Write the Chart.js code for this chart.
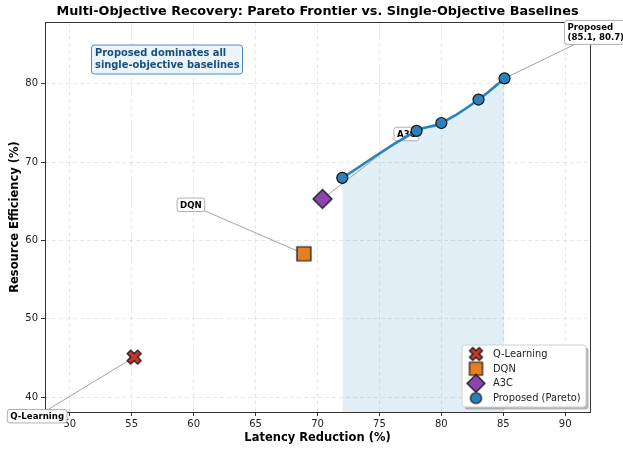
<!DOCTYPE html>
<html>
<head>
<meta charset="utf-8">
<script src="https://cdn.jsdelivr.net/npm/chart.js@4.4.0/dist/chart.umd.min.js"></script>
<style>
  html, body { margin: 0; padding: 0; background: #fff; }
  canvas { display: block; }
</style>
</head>
<body>
<canvas id="chart" width="623" height="449"></canvas>
<script>
// Baselines (single-objective)
const baselineNames = ['Q-Learning', 'DQN', 'A3C'];
const baselineLatency = [55.2, 68.9, 70.4];
const baselineEfficiency = [45.1, 58.3, 65.3];

// Proposed Pareto frontier
const paretoLatency = [72.0, 78.0, 80.0, 83.0, 85.1];
const paretoEfficiency = [68.0, 74.0, 75.0, 78.0, 80.7];

const xTicks = [50, 55, 60, 65, 70, 75, 80, 85, 90];
const yTicks = [40, 50, 60, 70, 80];

const FONT = '"DejaVu Sans", "Liberation Sans", sans-serif';

// filled marker images (matplotlib-like X, square, diamond)
function makeMarker(shape, size, fill) {
    const pad = 2;
    const c = document.createElement('canvas');
    c.width = c.height = Math.ceil(size + pad * 2);
    const g = c.getContext('2d');
    const m = c.width / 2, h = size / 2;
    g.beginPath();
    if (shape === 'x') {
        const pts = [[-0.25, -0.5], [0, -0.25], [0.25, -0.5], [0.5, -0.25], [0.25, 0], [0.5, 0.25],
                     [0.25, 0.5], [0, 0.25], [-0.25, 0.5], [-0.5, 0.25], [-0.25, 0], [-0.5, -0.25]];
        pts.forEach(([px, py], i) => {
            const X = m + px * size, Y = m + py * size;
            i ? g.lineTo(X, Y) : g.moveTo(X, Y);
        });
    } else if (shape === 'square') {
        g.rect(m - h, m - h, size, size);
    } else if (shape === 'diamond') {
        g.moveTo(m, m - h); g.lineTo(m + h, m); g.lineTo(m, m + h); g.lineTo(m - h, m);
    } else {
        g.arc(m, m, h, 0, Math.PI * 2);
    }
    g.closePath();
    g.fillStyle = fill;
    g.fill();
    g.lineWidth = 1.2;
    g.strokeStyle = '#111';
    g.stroke();
    return c;
}

const colors = ['#c0392b', '#e67e22', '#8e44ad'];
const paretoColor = '#2a81bb';
const shapes = ['x', 'square', 'diamond'];
const plotSizes = [14, 14, 19];
const legendSizes = [13, 13, 18];
const plotMarkers = shapes.map((s, i) => makeMarker(s, plotSizes[i], colors[i]));
const legendMarkers = shapes.map((s, i) => makeMarker(s, legendSizes[i], colors[i]))
    .concat([makeMarker('circle', 11, paretoColor)]);

// label offsets in pixels from each point
const labelOffsets = [[-97, 59], [-113, -49], [84, -65]];

function roundBox(ctx, x, y, w, h, r) {
    ctx.beginPath();
    ctx.moveTo(x + r, y);
    ctx.arcTo(x + w, y, x + w, y + h, r);
    ctx.arcTo(x + w, y + h, x, y + h, r);
    ctx.arcTo(x, y + h, x, y, r);
    ctx.arcTo(x, y, x + w, y, r);
    ctx.closePath();
}

function labelBox(ctx, lines, cx, cy, align) {
    ctx.font = 'bold 8.6px ' + FONT;
    const lh = 10.5;
    const w = Math.max(...lines.map(t => ctx.measureText(t).width)) + 6;
    const h = lines.length * lh + 3;
    const x = align === 'left' ? cx : cx - w / 2;
    const y = cy - h / 2;
    roundBox(ctx, x, y, w, h, 2.5);
    ctx.fillStyle = '#fff';
    ctx.fill();
    ctx.strokeStyle = '#9a9a9a';
    ctx.lineWidth = 0.8;
    ctx.stroke();
    ctx.fillStyle = '#000';
    ctx.textAlign = 'left';
    ctx.textBaseline = 'middle';
    lines.forEach((t, i) => ctx.fillText(t, x + 3, y + 1.5 + lh * (i + 0.5) + 0.5));
}

const framePlugin = {
    id: 'frame',
    beforeDatasetsDraw(chart) {
        const {ctx, chartArea: a, scales: {x, y}} = chart;
        ctx.save();
        ctx.strokeStyle = '#333';
        ctx.lineWidth = 1;
        ctx.strokeRect(Math.round(a.left) + 0.5, Math.round(a.top) + 0.5,
                       Math.round(a.right - a.left), Math.round(a.bottom - a.top));

        // annotation leader lines + labels
        ctx.strokeStyle = '#8a8a8a';
        ctx.lineWidth = 0.8;
        const items = baselineNames.map((n, i) => {
            const px = x.getPixelForValue(baselineLatency[i]);
            const py = y.getPixelForValue(baselineEfficiency[i]);
            return {lines: [n], px, py, cx: px + labelOffsets[i][0], cy: py + labelOffsets[i][1], align: 'center'};
        });
        const last = paretoLatency.length - 1;
        const ppx = x.getPixelForValue(paretoLatency[last]);
        const ppy = y.getPixelForValue(paretoEfficiency[last]);
        items.push({
            lines: ['Proposed', '(' + paretoLatency[last].toFixed(1) + ', ' + paretoEfficiency[last].toFixed(1) + ')'],
            px: ppx, py: ppy, cx: ppx + 60, cy: ppy - 46, lx: ppx + 95, align: 'left'
        });
        items.forEach(it => {
            ctx.beginPath();
            ctx.moveTo(it.px, it.py);
            ctx.lineTo(it.lx || it.cx, it.cy);
            ctx.stroke();
        });
        items.forEach(it => labelBox(ctx, it.lines, it.cx, it.cy, it.align));
        ctx.restore();
    },
    afterDraw(chart) {
        const {ctx, chartArea: a} = chart;
        ctx.save();
        // title
        ctx.fillStyle = '#000';
        ctx.font = 'bold 12.8px ' + FONT;
        ctx.textAlign = 'center';
        ctx.textBaseline = 'middle';
        ctx.fillText('Multi-Objective Recovery: Pareto Frontier vs. Single-Objective Baselines',
                     (a.left + a.right) / 2, 12);

        // info box
        const bx = a.left + 46.5, by = a.top + 23;
        roundBox(ctx, bx, by, 151, 29, 3);
        ctx.fillStyle = 'rgba(234, 242, 251, 0.95)';
        ctx.fill();
        ctx.strokeStyle = '#4a8cc4';
        ctx.lineWidth = 1;
        ctx.stroke();
        ctx.fillStyle = '#1b4f7c';
        ctx.font = 'bold 9.9px ' + FONT;
        ctx.textAlign = 'left';
        ctx.fillText('Proposed dominates all', bx + 3.5, by + 8.5);
        ctx.fillText('single-objective baselines', bx + 3.5, by + 20.5);

        // legend
        const lx = a.right - 128, ly = a.bottom - 67, lw = 124, lh = 62;
        roundBox(ctx, lx + 2.5, ly + 2.5, lw, lh, 3);
        ctx.fillStyle = 'rgba(120,120,120,0.55)';
        ctx.fill();
        roundBox(ctx, lx, ly, lw, lh, 3);
        ctx.fillStyle = '#fff';
        ctx.fill();
        ctx.strokeStyle = '#cfcfcf';
        ctx.lineWidth = 1;
        ctx.stroke();
        const names = baselineNames.concat(['Proposed (Pareto)']);
        ctx.font = '9.9px ' + FONT;
        ctx.fillStyle = '#222';
        names.forEach((n, i) => {
            const ry = ly + 9 + i * 14.7;
            const m = legendMarkers[i];
            ctx.drawImage(m, lx + 14 - m.width / 2, ry - m.height / 2);
            ctx.fillText(n, lx + 31, ry + 0.5);
        });
        ctx.restore();
    }
};

const baselineSets = baselineNames.map((n, i) => ({
    label: n,
    data: [{x: baselineLatency[i], y: baselineEfficiency[i]}],
    pointStyle: plotMarkers[i],
    pointRadius: 8,
    showLine: false
}));

new Chart(document.getElementById('chart'), {
    type: 'scatter',
    data: {
        datasets: [
            {
                label: 'Proposed (Pareto)',
                data: paretoLatency.map((v, i) => ({x: v, y: paretoEfficiency[i]})),
                showLine: true,
                tension: 0.5,
                borderColor: paretoColor,
                borderWidth: 2.6,
                fill: 'start',
                backgroundColor: 'rgba(41, 128, 185, 0.13)',
                pointRadius: 5.5,
                pointBackgroundColor: paretoColor,
                pointBorderColor: '#111',
                pointBorderWidth: 1.2,
                order: 0
            },
            ...baselineSets.map(d => ({...d, order: 1}))
        ]
    },
    options: {
        responsive: false,
        animation: false,
        devicePixelRatio: 1,
        layout: {padding: {top: 22, right: 33, left: 0, bottom: 0}},
        plugins: {
            legend: {display: false},
            tooltip: {enabled: false},
            filler: {drawTime: 'beforeDatasetsDraw'}
        },
        scales: {
            x: {
                type: 'linear',
                min: 48,
                max: 92,
                afterBuildTicks: s => { s.ticks = xTicks.map(v => ({value: v})); },
                afterFit: s => { s.height = 37; },
                grid: {color: 'rgba(0,0,0,0.09)', tickColor: '#333', tickLength: 4, tickBorderDash: []},
                border: {display: false, dash: [4, 3]},
                ticks: {color: '#222', padding: 2, font: {family: FONT, size: 10}},
                title: {display: true, text: 'Latency Reduction (%)', color: '#000',
                        font: {family: FONT, size: 11.5, weight: 'bold'}, padding: {top: 0, bottom: 4}}
            },
            y: {
                type: 'linear',
                min: 38.1,
                max: 87.9,
                afterBuildTicks: s => { s.ticks = yTicks.map(v => ({value: v})); },
                afterFit: s => { s.width = 45; },
                grid: {color: 'rgba(0,0,0,0.09)', tickColor: '#333', tickLength: 4, tickBorderDash: []},
                border: {display: false, dash: [4, 3]},
                ticks: {color: '#222', padding: 3, font: {family: FONT, size: 10}},
                title: {display: true, text: 'Resource Efficiency (%)', color: '#000',
                        font: {family: FONT, size: 11.5, weight: 'bold'}, padding: {top: 8, bottom: 0}}
            }
        }
    },
    plugins: [framePlugin]
});
</script>
</body>
</html>
